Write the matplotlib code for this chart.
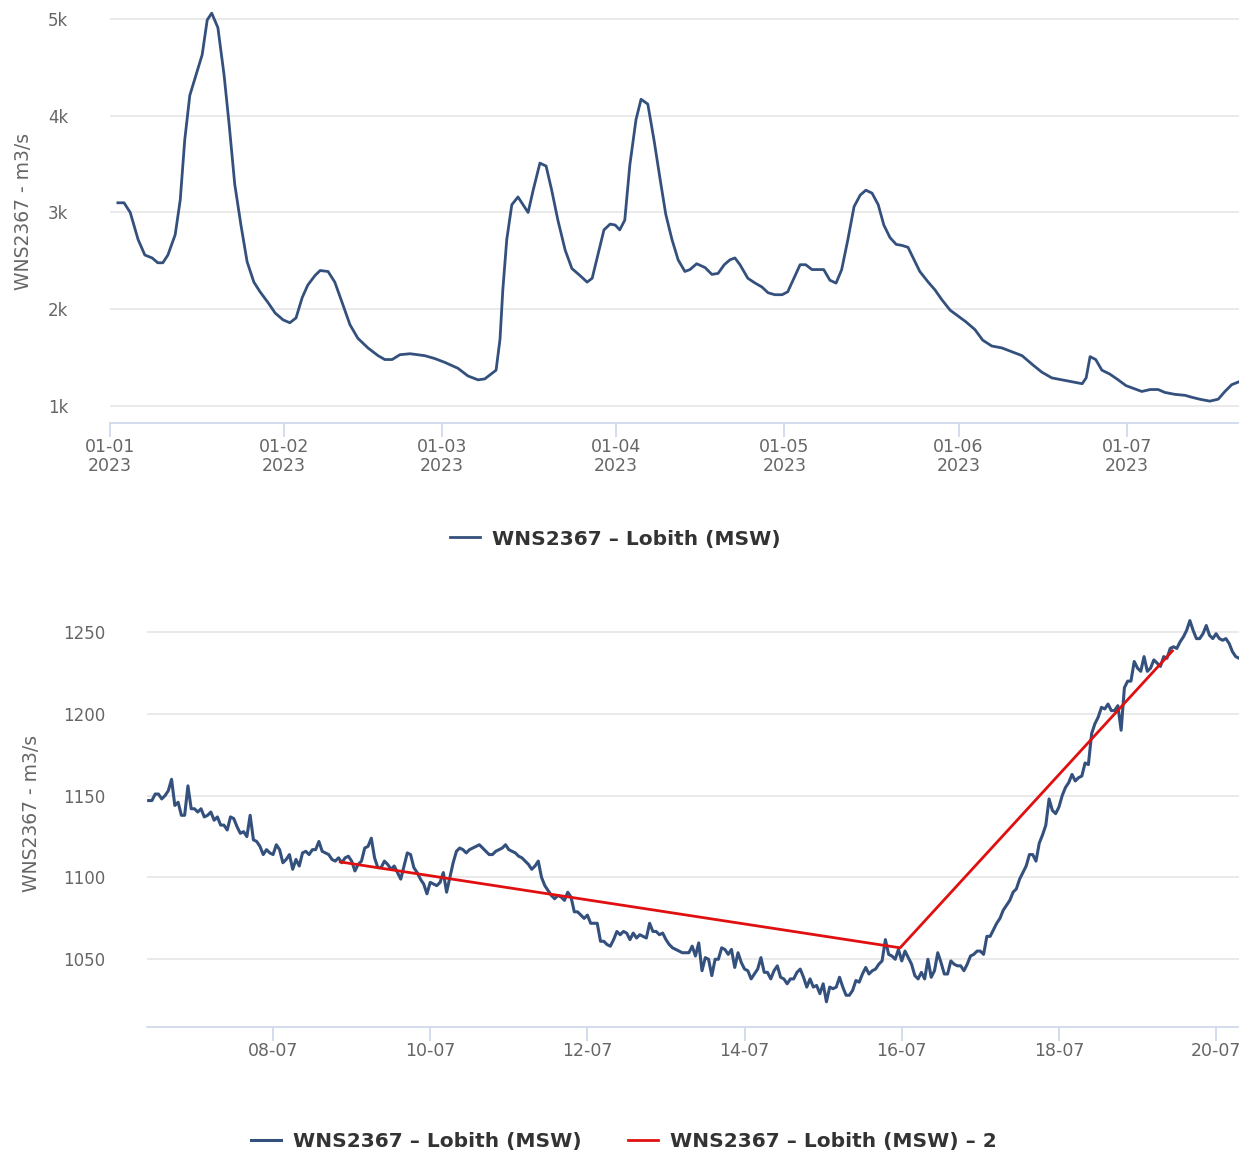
import numpy as np
import pandas as pd
import matplotlib
matplotlib.use('Agg')
import matplotlib.pyplot as plt
import matplotlib.dates as mdates
from matplotlib.ticker import FuncFormatter

# --- top chart: daily discharge 2023 (day offset from 1 Jan, m3/s) ---
day = [1.4, 2.5, 3.6, 5.0, 6.2, 7.5, 8.5, 9.4, 10.3, 11.6, 12.5, 13.3, 14.2, 15.3,
       16.4, 17.3, 18.1, 19.2, 20.3, 21.2, 22.2, 23.3, 24.4, 25.6, 26.7, 28.1, 29.4,
       30.8, 32.0, 33.1, 34.2, 35.2, 36.5, 37.4, 38.8, 40.0, 41.3, 42.7, 44.1, 45.9,
       47.7, 48.9, 50.2, 51.6, 53.4, 56.0, 57.8, 59.6, 61.9, 63.7, 65.5, 66.7, 67.6,
       68.7, 69.4, 69.9, 70.6, 71.5, 72.6, 73.5, 74.4, 75.3, 76.5, 77.6, 78.6, 79.7,
       81.0, 82.2, 83.6, 84.9, 85.8, 86.8, 87.9, 89.0, 89.9, 90.7, 91.6, 92.5, 93.6,
       94.5, 95.7, 96.8, 97.9, 98.9, 100.0, 101.1, 102.3, 103.2, 104.4, 105.9, 107.1,
       108.2, 109.3, 110.3, 111.2, 112.1, 113.5, 114.8, 116.0, 117.1, 118.3, 119.6,
       120.6, 121.7, 122.8, 123.8, 124.9, 126.0, 127.0, 128.1, 129.2, 130.2, 131.3,
       132.4, 133.5, 134.5, 135.6, 136.7, 137.7, 138.8, 139.9, 140.9, 142.0, 143.1,
       144.1, 145.6, 146.8, 148.0, 149.5, 150.9, 152.3, 153.9, 155.3, 156.9, 158.7,
       160.5, 162.3, 164.1, 165.8, 167.6, 169.4, 171.2, 173.0, 173.7, 174.4, 175.4,
       176.5, 177.9, 179.4, 180.8, 182.2, 183.6, 185.1, 186.5, 187.7, 189.5, 191.3,
       192.5, 193.9, 195.7, 197.2, 198.4, 199.6, 200.9]
flow = [3100, 3100, 3000, 2720, 2560, 2530, 2480, 2480, 2560, 2770, 3130, 3750, 4210, 4420,
        4630, 4990, 5060, 4910, 4420, 3910, 3290, 2870, 2490, 2280, 2180, 2070, 1960,
        1890, 1860, 1910, 2120, 2250, 2350, 2400, 2390, 2280, 2070, 1840, 1700, 1600,
        1520, 1480, 1480, 1530, 1540, 1520, 1490, 1450, 1390, 1310, 1270, 1280, 1320,
        1370, 1690, 2200, 2720, 3080, 3160, 3080, 3000, 3230, 3510, 3480, 3230, 2920,
        2610, 2420, 2350, 2280, 2320, 2560, 2820, 2880, 2870, 2820, 2920, 3490, 3960,
        4170, 4120, 3750, 3340, 2980, 2720, 2510, 2390, 2410, 2470, 2430, 2360,
        2370, 2460, 2510, 2530, 2460, 2320, 2270, 2230, 2170, 2150, 2150,
        2180, 2320, 2460, 2460, 2410, 2410, 2410, 2300, 2270, 2410, 2720,
        3060, 3180, 3230, 3200, 3080, 2870, 2740, 2670, 2660, 2640, 2510,
        2390, 2280, 2200, 2100, 1990, 1930, 1870, 1790, 1680, 1620, 1600,
        1560, 1520, 1430, 1350, 1290, 1270, 1250, 1230, 1290, 1510, 1480,
        1370, 1330, 1270, 1210, 1180, 1150, 1170, 1170, 1140, 1120, 1110,
        1090, 1070, 1050, 1070, 1150, 1220, 1250]
top_ticks = ['2023-01-01', '2023-02-01', '2023-03-01', '2023-04-01', '2023-05-01',
             '2023-06-01', '2023-07-01']

# --- bottom chart: hourly values from 6 Jul 2023 10:00 ---
hourly_start = '2023-07-06 10:00'
hourly = [1147, 1147, 1151, 1151, 1148, 1150, 1153, 1160, 1144, 1146, 1138, 1138, 1156, 1142,
          1142, 1140, 1142, 1137, 1138, 1140, 1135, 1137, 1132, 1132, 1129, 1137, 1136, 1131,
          1127, 1128, 1125, 1138, 1123, 1122, 1119, 1114, 1117, 1115, 1114, 1120, 1117, 1109,
          1111, 1114, 1105, 1111, 1107, 1115, 1116, 1114, 1117, 1117, 1122, 1116, 1115, 1114,
          1111, 1110, 1112, 1109, 1112, 1113, 1110, 1104, 1108, 1110, 1118, 1119, 1124, 1112,
          1106, 1106, 1110, 1108, 1105, 1107, 1103, 1099, 1107, 1115, 1114, 1106, 1103, 1099,
          1096, 1090, 1097, 1096, 1095, 1097, 1103, 1091, 1100, 1109, 1116, 1118, 1117, 1115,
          1117, 1118, 1119, 1120, 1118, 1116, 1114, 1114, 1116, 1117, 1118, 1120, 1117, 1116,
          1115, 1113, 1112, 1110, 1108, 1105, 1107, 1110, 1100, 1095, 1092, 1089, 1087, 1089,
          1088, 1086, 1091, 1088, 1079, 1079, 1077, 1075, 1077, 1072, 1072, 1072, 1061, 1061,
          1059, 1058, 1062, 1067, 1065, 1067, 1066, 1062, 1066, 1063, 1065, 1064, 1063, 1072,
          1067, 1067, 1065, 1066, 1062, 1059, 1057, 1056, 1055, 1054, 1054, 1054, 1058, 1052,
          1060, 1043, 1051, 1050, 1040, 1050, 1050, 1057, 1056, 1053, 1056, 1045, 1054, 1048,
          1044, 1043, 1038, 1041, 1044, 1051, 1042, 1042, 1038, 1043, 1046, 1039, 1038, 1035,
          1038, 1038, 1042, 1044, 1039, 1033, 1038, 1033, 1034, 1029, 1035, 1024, 1033, 1032,
          1033, 1039, 1033, 1028, 1028, 1031, 1037, 1036, 1041, 1045, 1041, 1043, 1044, 1047,
          1049, 1062, 1053, 1052, 1050, 1056, 1049, 1055, 1051, 1047, 1040, 1038, 1042, 1038,
          1050, 1039, 1043, 1054, 1048, 1041, 1041, 1049, 1047, 1046, 1046, 1043, 1047, 1052,
          1053, 1055, 1055, 1053, 1064, 1064, 1068, 1072, 1075, 1080, 1083, 1086, 1091, 1093,
          1099, 1103, 1107, 1114, 1114, 1110, 1121, 1126, 1132, 1148, 1141, 1139, 1143, 1150,
          1155, 1158, 1163, 1159, 1161, 1162, 1170, 1169, 1188, 1194, 1198, 1204, 1203, 1206,
          1202, 1202, 1205, 1190, 1216, 1220, 1220, 1232, 1228, 1226, 1235, 1226, 1228, 1233,
          1231, 1229, 1235, 1234, 1240, 1241, 1240, 1244, 1247, 1251, 1257, 1251, 1246, 1246,
          1249, 1254, 1248, 1246, 1249, 1246, 1245, 1246, 1243, 1238, 1235, 1234]
trend_time = ['2023-07-08 20:30', '2023-07-15 23:30', '2023-07-19 10:40']
trend_val = [1109.5, 1057, 1238.5]
bottom_ticks = ['2023-07-08', '2023-07-10', '2023-07-12', '2023-07-14', '2023-07-16',
                '2023-07-18', '2023-07-20']

BLUE = '#34507d'
RED = '#e01010'
GRID = '#e6e6e6'
AXIS = '#ccd6eb'
TXT = '#666666'
series_name = 'WNS2367 – Lobith (MSW)'
W, H = 1239, 1152

fig = plt.figure(figsize=(W / 100, H / 100), dpi=100)


def style(ax):
    for s in ['top', 'right', 'left']:
        ax.spines[s].set_visible(False)
    ax.spines['bottom'].set_color(AXIS)
    ax.spines['bottom'].set_linewidth(1.2)
    ax.grid(axis='y', color=GRID, lw=1.2)
    ax.set_axisbelow(True)
    ax.tick_params(axis='y', length=0, pad=30, labelsize=12, labelcolor=TXT)
    ax.tick_params(axis='x', length=10, width=1.2, color=AXIS, pad=1,
                   labelsize=12.5, labelcolor=TXT)


# top chart
ax1 = fig.add_axes([110 / W, 1 - 423 / H, 1 - 110 / W, 423 / H])
t1 = pd.Timestamp('2023-01-01') + pd.to_timedelta(day, unit='D')
line1, = ax1.plot(t1, flow, color=BLUE, lw=2.0, label=series_name)
ax1.set_xlim(pd.Timestamp('2023-01-01'), pd.Timestamp('2023-01-01') + pd.Timedelta(days=200.9))
ax1.set_ylim(824, 5196)
ax1.set_yticks([1000, 2000, 3000, 4000, 5000])
ax1.yaxis.set_major_formatter(FuncFormatter(lambda v, p: f'{int(v / 1000)}k'))
ax1.set_xticks(pd.to_datetime(top_ticks))
ax1.xaxis.set_major_formatter(mdates.DateFormatter('%d-%m\n%Y'))
style(ax1)
for lab in ax1.get_xticklabels():
    lab.set_linespacing(1.05)
ax1.set_ylabel('WNS2367 - m3/s', fontsize=13.5, color=TXT, labelpad=11)

# bottom chart
ax2 = fig.add_axes([147 / W, 1 - 1027 / H, 1 - 147 / W, 427 / H])
t2 = pd.date_range(hourly_start, periods=len(hourly), freq='h')
line2, = ax2.plot(t2, hourly, color=BLUE, lw=2.2, label=series_name)
line3, = ax2.plot(pd.to_datetime(trend_time), trend_val, color=RED, lw=2.0,
                  label=series_name + ' – 2')
ax2.set_xlim(pd.Timestamp('2023-07-06 09:30'), pd.Timestamp('2023-07-20 07:00'))
ax2.set_ylim(1008.6, 1269.6)
ax2.set_yticks([1050, 1100, 1150, 1200, 1250])
ax2.set_xticks(pd.to_datetime(bottom_ticks))
ax2.xaxis.set_major_formatter(mdates.DateFormatter('%d-%m'))
style(ax2)
ax2.set_ylabel('WNS2367 - m3/s', fontsize=13.5, color=TXT, labelpad=16)

legend_kw = dict(loc='center', frameon=False, prop={'weight': 'bold', 'size': 14.5},
                 labelcolor='#333333', handlelength=1.5, handletextpad=0.6)
fig.legend(handles=[line1], bbox_to_anchor=(615 / W, 1 - 539 / H), **legend_kw)
fig.legend(handles=[line2, line3], ncol=2, columnspacing=2.3,
           bbox_to_anchor=(624 / W, 1 - 1142 / H), **legend_kw)

fig.savefig('out.png', dpi=100)
